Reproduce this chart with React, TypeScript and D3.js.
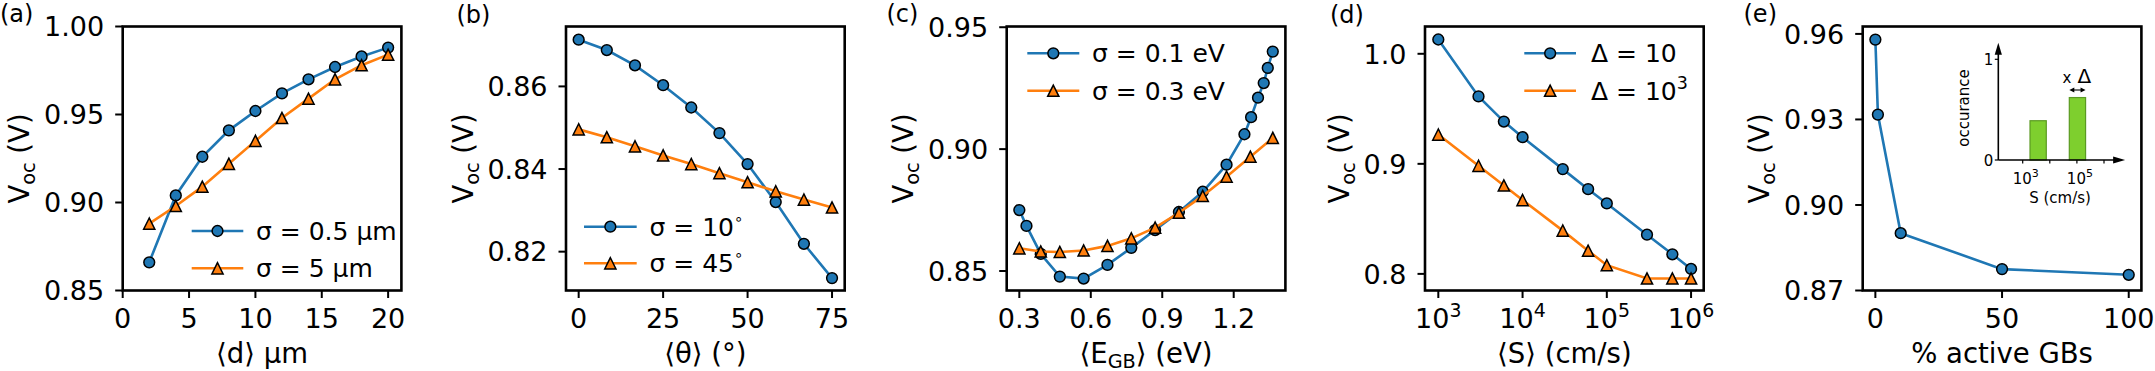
import React from "react";
import * as d3 from "d3";

const BLUE = "#1f77b4";
const ORANGE = "#ff7f0e";
const FONT = "DejaVu Sans";

const WIDTH = 2155;
const HEIGHT = 371;

// (a) grain size
const aX = [2, 4, 6, 8, 10, 12, 14, 16, 18, 20];
const aBlue = [0.866, 0.904, 0.926, 0.941, 0.952, 0.962, 0.970, 0.977, 0.983, 0.988];
const aOrange = [0.888, 0.898, 0.909, 0.922, 0.935, 0.948, 0.959, 0.970, 0.978, 0.984];

// (b) misorientation angle
const bX = [0, 8.33, 16.67, 25, 33.33, 41.67, 50, 58.33, 66.67, 75];
const bBlue = [0.8713, 0.8688, 0.8651, 0.8603, 0.8549, 0.8487, 0.8412, 0.8320, 0.8219, 0.8136];
const bOrange = [0.8496, 0.8477, 0.8455, 0.8433, 0.8412, 0.8390, 0.8368, 0.8346, 0.8326, 0.8307];

// (c) GB energy level
const cBlueX = [0.30, 0.33, 0.39, 0.47, 0.57, 0.67, 0.77, 0.87, 0.97, 1.07, 1.17, 1.245, 1.273, 1.302, 1.326, 1.343, 1.364];
const cBlue = [0.8750, 0.8685, 0.8570, 0.8477, 0.8469, 0.8525, 0.8595, 0.8668, 0.8742, 0.8825, 0.8936, 0.9061, 0.9131, 0.9211, 0.9271, 0.9333, 0.9400];
const cOrangeX = [0.30, 0.39, 0.47, 0.57, 0.67, 0.77, 0.87, 0.97, 1.07, 1.17, 1.27, 1.364];
const cOrange = [0.8593, 0.8580, 0.8578, 0.8584, 0.8603, 0.8634, 0.8678, 0.8739, 0.8808, 0.8887, 0.8969, 0.9046];

// (d) recombination velocity
const dX = [1e3, 3e3, 6e3, 1e4, 3e4, 6e4, 1e5, 3e5, 6e5, 1e6];
const dBlue = [1.013, 0.9613, 0.9384, 0.9242, 0.8952, 0.8770, 0.8640, 0.8356, 0.8178, 0.8045];
const dOrange = [0.9266, 0.8982, 0.8804, 0.8671, 0.8393, 0.8211, 0.8079, 0.7958, 0.7958, 0.7958];

// (e) fraction of active GBs
const eX = [0, 1, 10, 50, 100];
const eY = [0.958, 0.9317, 0.8901, 0.8775, 0.8755];

// (e) inset histogram, x in decades of S
const insetCenters = [3.57, 5.02];
const insetHeights = [0.39, 0.62];
const insetTicks = [3, 4, 5, 6];
const insetLabelled = [3, 5];

const TOP = 26.5;
const BOTTOM = 290.5;
const PW = 278.7;
const TICK = 7.5;
const FS_TICK = 27;
const FS_LABEL = 27.5;
const FS_LEGEND = 25;

type Marker = "o" | "^";

interface ISeries {
    x: number[];
    y: number[];
    color: string;
    marker: Marker;
    label: React.ReactNode;
}

interface IPanel {
    key: string;
    left: number;
    log?: boolean;
    xDomain: [number, number];
    yDomain: [number, number];
    xTicks: number[];
    yTicks: number[];
    xFmt: (d: number) => React.ReactNode;
    yFmt: (d: number) => string;
    ylabelX: number;
    tag: { x: number; y: number; text: string };
    xlabel: React.ReactNode;
    series: ISeries[];
    legend?: { x1: number; x2: number; ys: number[]; tx: number };
}

const MarkerShape = ({ m, x, y, color }: { m: Marker; x: number; y: number; color: string }) => {
    if (m === "o") {
        return <circle cx={x} cy={y} r={5.4} fill={color} stroke="black" strokeWidth={1.5} />;
    }
    const s = 5.6;
    return <path d={`M${x},${y - s}L${x - s},${y + s}L${x + s},${y + s}Z`} fill={color} stroke="black" strokeWidth={1.5} strokeLinejoin="miter" />;
};

const sub = (main: string, s: string, rest: string, shift = 6) => (
    <>
        {main}
        <tspan fontSize="0.7em" dy={shift}>{s}</tspan>
        <tspan dy={-shift}>{rest}</tspan>
    </>
);

const pow10 = (d: number) => (
    <>
        10<tspan fontSize="0.7em" dy={-11}>{Math.round(Math.log10(d))}</tspan>
    </>
);

const degLabel = (v: number) => (
    <>
        σ = {v}<tspan fontSize="0.6em" dy={-12}>∘</tspan>
    </>
);

const panels: IPanel[] = [
    {
        key: "a", left: 122.7, xDomain: [0, 21], yDomain: [0.85, 1.0],
        xTicks: [0, 5, 10, 15, 20], yTicks: [0.85, 0.9, 0.95, 1.0],
        xFmt: (d) => String(d), yFmt: d3.format(".2f"), ylabelX: 29.3,
        tag: { x: 0, y: 21.5, text: "(a)" }, xlabel: "⟨d⟩ µm",
        series: [
            { x: aX, y: aBlue, color: BLUE, marker: "o", label: "σ = 0.5 µm" },
            { x: aX, y: aOrange, color: ORANGE, marker: "^", label: "σ = 5 µm" },
        ],
        legend: { x1: 191.7, x2: 243.3, ys: [231, 268.3], tx: 256 },
    },
    {
        key: "b", left: 566, xDomain: [-3.75, 78.75], yDomain: [0.8106, 0.8745],
        xTicks: [0, 25, 50, 75], yTicks: [0.82, 0.84, 0.86],
        xFmt: (d) => String(d), yFmt: d3.format(".2f"), ylabelX: 472.7,
        tag: { x: 456.5, y: 22.5, text: "(b)" }, xlabel: "⟨θ⟩ (°)",
        series: [
            { x: bX, y: bBlue, color: BLUE, marker: "o", label: degLabel(10) },
            { x: bX, y: bOrange, color: ORANGE, marker: "^", label: degLabel(45) },
        ],
        legend: { x1: 584, x2: 636.7, ys: [226.7, 263.3], tx: 649.5 },
    },
    {
        key: "c", left: 1006.7, xDomain: [0.247, 1.417], yDomain: [0.842, 0.9503],
        xTicks: [0.3, 0.6, 0.9, 1.2], yTicks: [0.85, 0.9, 0.95],
        xFmt: d3.format(".1f"), yFmt: d3.format(".2f"), ylabelX: 912.7,
        tag: { x: 886.5, y: 21.5, text: "(c)" }, xlabel: sub("⟨E", "GB", "⟩ (eV)", 4.5),
        series: [
            { x: cBlueX, y: cBlue, color: BLUE, marker: "o", label: "σ = 0.1 eV" },
            { x: cOrangeX, y: cOrange, color: ORANGE, marker: "^", label: "σ = 0.3 eV" },
        ],
        legend: { x1: 1027.3, x2: 1079.3, ys: [53.3, 90.7], tx: 1092 },
    },
    {
        key: "d", left: 1425, log: true, xDomain: [Math.pow(10, 2.842), Math.pow(10, 6.15)], yDomain: [0.7849, 1.0248],
        xTicks: [1e3, 1e4, 1e5, 1e6], yTicks: [0.8, 0.9, 1.0],
        xFmt: pow10, yFmt: d3.format(".1f"), ylabelX: 1349.3,
        tag: { x: 1330, y: 22.5, text: "(d)" }, xlabel: "⟨S⟩ (cm/s)",
        series: [
            { x: dX, y: dBlue, color: BLUE, marker: "o", label: "Δ = 10" },
            { x: dX, y: dOrange, color: ORANGE, marker: "^", label: <>Δ = 10<tspan fontSize="0.7em" dy={-11}>3</tspan></> },
        ],
        legend: { x1: 1524.3, x2: 1576, ys: [53.3, 90.7], tx: 1591 },
    },
    {
        key: "e", left: 1862.7, xDomain: [-5, 105], yDomain: [0.87, 0.9626],
        xTicks: [0, 50, 100], yTicks: [0.87, 0.9, 0.93, 0.96],
        xFmt: (d) => String(d), yFmt: d3.format(".2f"), ylabelX: 1769.3,
        tag: { x: 1743.5, y: 21.5, text: "(e)" }, xlabel: "% active GBs",
        series: [
            { x: eX, y: eY, color: BLUE, marker: "o", label: "" },
        ],
    },
];

const Panel = ({ p }: { p: IPanel }) => {
    const right = p.left + PW;
    const x = p.log
        ? d3.scaleLog(p.xDomain, [p.left, right])
        : d3.scaleLinear(p.xDomain, [p.left, right]);
    const y = d3.scaleLinear(p.yDomain, [BOTTOM, TOP]);
    const cx = (p.left + right) / 2;
    const cy = (TOP + BOTTOM) / 2;

    return <g>
        <defs>
            <clipPath id={`clip-${p.key}`}>
                <rect x={p.left - 8} y={TOP - 8} width={PW + 16} height={BOTTOM - TOP + 16} />
            </clipPath>
        </defs>
        <text x={p.tag.x} y={p.tag.y} fontSize={24}>{p.tag.text}</text>

        {/* x ticks */}
        {p.xTicks.map((t) => (
            <g key={`x${t}`}>
                <line x1={x(t)} x2={x(t)} y1={BOTTOM} y2={BOTTOM + TICK} stroke="black" strokeWidth={2} />
                <text x={x(t)} y={328} fontSize={FS_TICK} textAnchor="middle">{p.xFmt(t)}</text>
            </g>
        ))}
        {/* y ticks */}
        {p.yTicks.map((t) => (
            <g key={`y${t}`}>
                <line x1={p.left - TICK} x2={p.left} y1={y(t)} y2={y(t)} stroke="black" strokeWidth={2} />
                <text x={p.left - 18.5} y={y(t) + 9.8} fontSize={FS_TICK} textAnchor="end">{p.yFmt(t)}</text>
            </g>
        ))}

        <text x={cx} y={363} fontSize={FS_LABEL} textAnchor="middle">{p.xlabel}</text>
        <text transform={`translate(${p.ylabelX},${cy}) rotate(-90)`} fontSize={FS_LABEL} textAnchor="middle">
            {sub("V", "oc", " (V)")}
        </text>

        <g clipPath={`url(#clip-${p.key})`}>
            {p.series.map((s, i) => {
                const line = d3.line<number>().x((d, j) => x(s.x[j])).y((d) => y(d));
                return <g key={i}>
                    <path d={line(s.y)!} fill="none" stroke={s.color} strokeWidth={2.6} />
                    {s.y.map((v, j) => (
                        <MarkerShape key={j} m={s.marker} x={x(s.x[j])} y={y(v)} color={s.color} />
                    ))}
                </g>;
            })}
        </g>

        {p.legend && p.series.map((s, i) => {
            const lg = p.legend!;
            const ly = lg.ys[i];
            return <g key={`lg${i}`}>
                <line x1={lg.x1} x2={lg.x2} y1={ly} y2={ly} stroke={s.color} strokeWidth={2.6} />
                <MarkerShape m={s.marker} x={(lg.x1 + lg.x2) / 2} y={ly} color={s.color} />
                <text x={lg.tx} y={ly + 9} fontSize={FS_LEGEND}>{s.label}</text>
            </g>;
        })}

        <rect x={p.left} y={TOP} width={PW} height={BOTTOM - TOP} fill="none" stroke="black" strokeWidth={2.6} />
    </g>;
};

const Inset = () => {
    const xi = d3.scaleLinear([3, 6], [2022.7, 2104]);
    const yi = d3.scaleLinear([0, 1], [160, 59.3]);
    const x0 = xi(2.1);
    const xEnd = xi(6.78);
    const yEnd = yi(1.165);
    const bw = 0.6;
    const a = 6;
    const arrowY = 90;
    const b2l = xi(insetCenters[1] - bw / 2);
    const b2r = xi(insetCenters[1] + bw / 2);

    return <g fontSize={15}>
        {insetCenters.map((c, i) => (
            <rect key={i} x={xi(c - bw / 2)} y={yi(insetHeights[i])}
                width={xi(c + bw / 2) - xi(c - bw / 2)} height={yi(0) - yi(insetHeights[i])}
                fill="#7ecf2e" stroke="#5a9a22" strokeWidth={1.2} />
        ))}
        <line x1={x0} x2={xEnd - a} y1={yi(0)} y2={yi(0)} stroke="black" strokeWidth={1.6} />
        <path d={`M${xEnd},${yi(0)}L${xEnd - 2 * a},${yi(0) - a * 0.6}L${xEnd - 2 * a},${yi(0) + a * 0.6}Z`} fill="black" />
        <line x1={x0} x2={x0} y1={yi(0)} y2={yEnd + a} stroke="black" strokeWidth={1.6} />
        <path d={`M${x0},${yEnd}L${x0 - a * 0.6},${yEnd + 2 * a}L${x0 + a * 0.6},${yEnd + 2 * a}Z`} fill="black" />

        {[0, 1].map((t) => (
            <g key={t}>
                <line x1={x0 - 3.5} x2={x0} y1={yi(t)} y2={yi(t)} stroke="black" strokeWidth={1.2} />
                <text x={x0 - 5} y={yi(t) + 5.5} textAnchor="end">{t}</text>
            </g>
        ))}
        {insetTicks.map((t) => (
            <line key={t} x1={xi(t)} x2={xi(t)} y1={yi(0)} y2={yi(0) + 3.5} stroke="black" strokeWidth={1.2} />
        ))}
        {insetLabelled.map((t) => (
            <text key={t} x={xi(t) + 3} y={184} textAnchor="middle">
                10<tspan fontSize={11} dy={-7}>{t}</tspan>
            </text>
        ))}
        <text x={2060} y={203} textAnchor="middle">S (cm/s)</text>
        <text transform={`translate(1968.5,108) rotate(-90)`} textAnchor="middle">occurance</text>

        <text x={2062.5} y={82.5}>x</text>
        <text x={2077.5} y={82.5} fontSize={20}>Δ</text>
        <line x1={b2l + 3} x2={b2r - 3} y1={arrowY} y2={arrowY} stroke="black" strokeWidth={1.1} />
        <path d={`M${b2l},${arrowY}L${b2l + 5},${arrowY - 2.5}L${b2l + 5},${arrowY + 2.5}Z`} fill="black" />
        <path d={`M${b2r},${arrowY}L${b2r - 5},${arrowY - 2.5}L${b2r - 5},${arrowY + 2.5}Z`} fill="black" />
    </g>;
};

export default function App() {
    return <svg width={WIDTH} height={HEIGHT} fontFamily={FONT}
        style={{ position: "absolute", left: 0, top: 0, background: "white" }}>
        <rect x={0} y={0} width={WIDTH} height={HEIGHT} fill="white" />
        {panels.map((p) => <Panel key={p.key} p={p} />)}
        <Inset />
    </svg>;
}
